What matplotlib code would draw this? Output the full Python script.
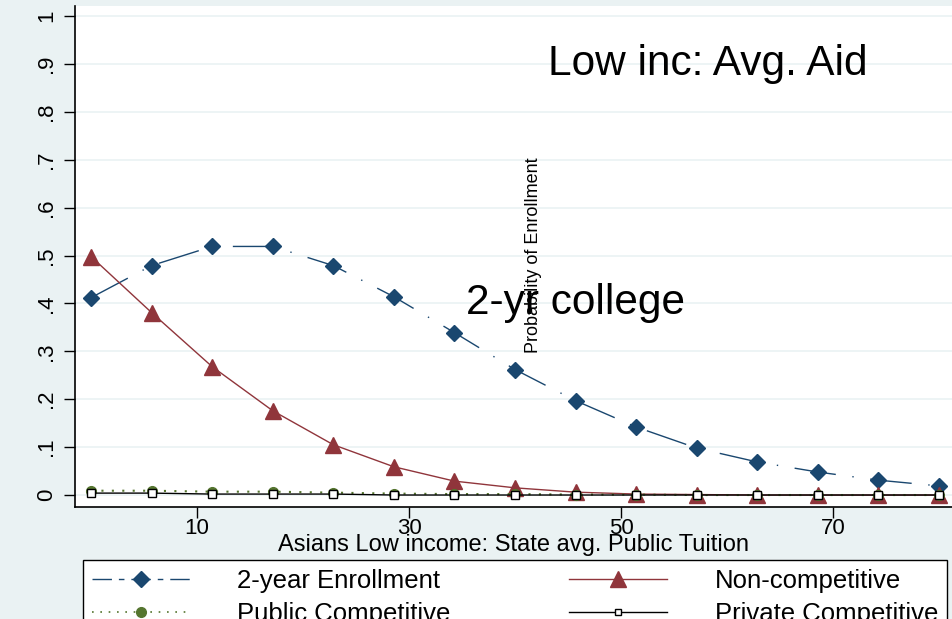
import matplotlib.pyplot as plt
from matplotlib.lines import Line2D

# simulated tuition levels (x) and predicted probabilities
tuition = [0.0, 5.71, 11.43, 17.14, 22.86, 28.57, 34.29, 40.0,
           45.71, 51.43, 57.14, 62.86, 68.57, 74.29, 80.0]
two_year = [0.412, 0.479, 0.519, 0.519, 0.479, 0.414, 0.339, 0.262,
            0.197, 0.142, 0.098, 0.069, 0.048, 0.031, 0.019]
non_comp = [0.498, 0.381, 0.268, 0.176, 0.105, 0.059, 0.029, 0.015,
            0.006, 0.002, 0.001, 0.0, 0.0, 0.0, 0.0]
public_comp = [0.009, 0.009, 0.007, 0.007, 0.005, 0.003, 0.002, 0.002,
               0.001, 0.001, 0.0, 0.0, 0.0, 0.0, 0.0]
private_comp = [0.004, 0.004, 0.002, 0.002, 0.002, 0.0, 0.0, 0.0,
                0.0, 0.0, 0.0, 0.0, 0.0, 0.0, 0.0]

series_names = ["2-year Enrollment", "Non-competitive",
                "Public Competitive", "Private Competitive"]
x_ticks = [10, 30, 50, 70]
y_ticks = [0, 0.1, 0.2, 0.3, 0.4, 0.5, 0.6, 0.7, 0.8, 0.9, 1.0]
y_tick_labels = ["0", ".1", ".2", ".3", ".4", ".5", ".6", ".7", ".8", ".9", "1"]

BG = "#EAF2F3"
NAVY = "#1A476F"
MAROON = "#90353B"
FOREST = "#55752F"

plt.rcParams['font.family'] = ['Liberation Sans', 'DejaVu Sans']

fig = plt.figure(figsize=(9.53, 6.19), dpi=100, facecolor=BG)
ax = fig.add_axes([75 / 953, 1 - 507 / 619, 1 - 75 / 953, (507 - 6) / 619])
ax.set_facecolor("white")

ax.plot(tuition, two_year, color=NAVY, lw=1, marker="D", ms=8,
        dashes=(30, 12, 1, 12), label=series_names[0])
ax.plot(tuition, non_comp, color=MAROON, lw=1, marker="^", ms=11,
        label=series_names[1])
ax.plot(tuition, public_comp, color=FOREST, lw=1.5, marker="o", ms=7,
        linestyle=(0, (1, 4)), label=series_names[2])
ax.plot(tuition, private_comp, color="black", lw=1, marker="s", ms=6,
        markerfacecolor="white", markeredgecolor="black", label=series_names[3])

ax.set_xlim(-1.51, 81.32)
ax.set_ylim(-0.025, 1.021)
ax.set_xticks(x_ticks)
ax.set_yticks(y_ticks)
ax.set_yticklabels(y_tick_labels, rotation=90, va="center")
ax.tick_params(axis="both", labelsize=16, length=8, width=1, direction="out")
ax.tick_params(axis="y", pad=5)
ax.tick_params(axis="x", pad=0)
ax.grid(True, axis="y", color=BG, lw=1.2)
ax.set_axisbelow(True)
for side in ["top", "right"]:
    ax.spines[side].set_visible(False)
ax.spines["left"].set_linewidth(1.2)
ax.spines["bottom"].set_linewidth(1.2)

ax.set_xlabel("Asians Low income: State avg. Public Tuition", fontsize=17,
              labelpad=-4)

ax.text(58.2, 0.90, "Low inc: Avg. Aid", fontsize=30.5, ha="center", va="center")
ax.text(45.75, 0.40, "2-yr college", fontsize=30.5, ha="center", va="center")
ax.text(41.7, 0.50, "Probability of Enrollment", fontsize=13, rotation=90,
        ha="center", va="center")

handles = [
    Line2D([], [], color=NAVY, lw=1, marker="D", ms=8, dashes=(14, 5, 4, 5)),
    Line2D([], [], color=FOREST, lw=1.2, marker="o", ms=7, linestyle=(0, (1, 4))),
    Line2D([], [], color=MAROON, lw=1, marker="^", ms=11),
    Line2D([], [], color="black", lw=1, marker="s", ms=5,
           markerfacecolor="white", markeredgecolor="black"),
]
labels = [series_names[0], series_names[2], series_names[1], series_names[3]]
leg = fig.legend(handles, labels, loc="upper left", mode="expand", ncol=2,
                 bbox_to_anchor=(83 / 953, -0.2, (947 - 83) / 953, 0.2 + 1 - 560 / 619),
                 fontsize=18.5, frameon=True, fancybox=False, borderpad=0.35,
                 handlelength=3.8, handletextpad=1.85, labelspacing=0.36,
                 borderaxespad=0)
leg.get_frame().set_edgecolor("black")
leg.get_frame().set_linewidth(1)
leg.get_frame().set_facecolor("white")
leg.get_frame().set_alpha(1)

fig.savefig("out.png", dpi=100, facecolor=BG)
